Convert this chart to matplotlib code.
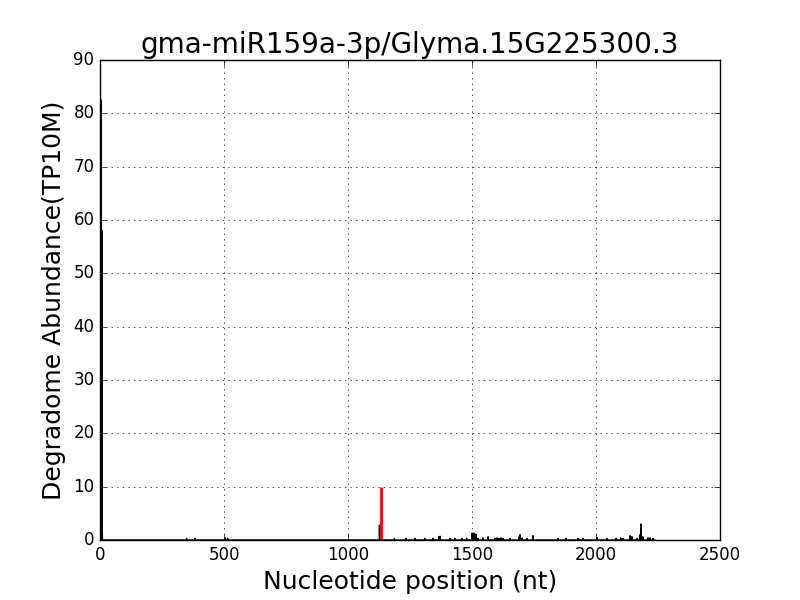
import numpy as np
import matplotlib
matplotlib.use('Agg')
import matplotlib.pyplot as plt

plt.style.use('classic')

# transcript length and degradome reads (position, TP10M)
tx_len = 2240
positions = [5, 6, 8, 9, 349, 383, 504, 515, 1127, 1187, 1234, 1270, 1310, 1343,
             1366, 1371, 1411, 1431, 1459, 1479, 1500, 1504, 1508, 1512, 1516,
             1524, 1544, 1565, 1593, 1601, 1609, 1617, 1625, 1653, 1690, 1694,
             1702, 1722, 1746, 1847, 1879, 1927, 1948, 2004, 2044, 2081, 2100,
             2109, 2137, 2141, 2145, 2165, 2178, 2181, 2189, 2210, 2218, 2230]
values = [82.5, 3.0, 58.0, 2.0, 0.3, 0.3, 0.4, 0.3, 2.8, 0.3, 0.3, 0.3, 0.3, 0.3,
          0.6, 0.7, 0.3, 0.3, 0.3, 0.3, 1.3, 0.8, 1.3, 0.7, 1.1,
          0.3, 0.4, 0.6, 0.3, 0.4, 0.3, 0.4, 0.3, 0.3, 0.6, 1.0,
          0.4, 0.3, 0.8, 0.3, 0.3, 0.3, 0.3, 0.5, 0.3, 0.3, 0.4,
          0.3, 0.8, 0.5, 0.6, 0.3, 1.0, 3.0, 0.6, 0.4, 0.4, 0.3]

# cleavage site predicted for the miRNA
target_pos = 1133
target_val = 10.0

abund = np.zeros(tx_len)
abund[positions] = values

fig = plt.figure(figsize=(8, 6), dpi=100, facecolor='white')
ax = fig.add_subplot(111)
ax.plot(np.arange(tx_len), abund, 'k-', lw=1)
ax.vlines(target_pos, 0, target_val, colors='r', lw=2)

ax.set_xlim(0, 2500)
ax.set_ylim(0, 90)
ax.grid(True)
ax.set_title('gma-miR159a-3p/Glyma.15G225300.3', fontsize=20)
ax.set_xlabel('Nucleotide position (nt)', fontsize=18)
ax.set_ylabel('Degradome Abundance(TP10M)', fontsize=18)
ax.tick_params(labelsize=12)

fig.savefig('out.png', dpi=100, facecolor='white')
